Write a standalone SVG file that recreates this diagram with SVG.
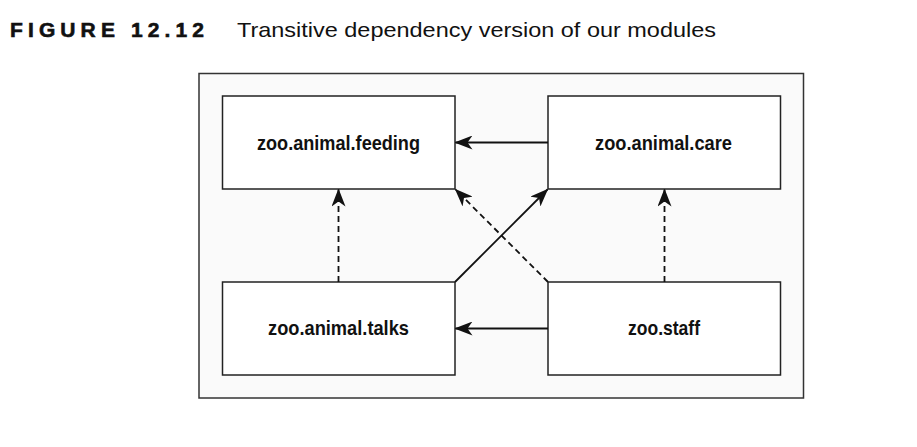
<svg xmlns="http://www.w3.org/2000/svg" width="917" height="447" viewBox="0 0 917 447">
<style>
.title{font-family:"Liberation Sans",Arial,sans-serif;font-size:21px;fill:#111}
.fig{font-weight:bold;font-size:21px}
.box{fill:#fff;stroke:#222;stroke-width:1.5}
.lbl{font-family:"Liberation Sans",Arial,sans-serif;font-weight:bold;font-size:21px;fill:#111;text-anchor:middle}
.c{stroke:#111;stroke-width:1.8;fill:none}
.d{stroke-dasharray:6 4}
</style>
<defs>
<marker id="ah" viewBox="0 0 18 14" refX="17" refY="7" markerWidth="18" markerHeight="14" markerUnits="userSpaceOnUse" orient="auto">
<path d="M0,0 L18,7 L0,14 L5,7 Z" fill="#111"/>
</marker>
</defs>
<rect width="917" height="447" fill="#fff"/>
<text class="title fig" x="10" y="37" textLength="194" lengthAdjust="spacing" stroke="#111" stroke-width="0.6">FIGURE 12.12</text>
<text class="title" x="237" y="37" textLength="479" lengthAdjust="spacingAndGlyphs">Transitive dependency version of our modules</text>
<rect id="frame" x="199" y="73.5" width="604.5" height="324.5" fill="#fafafa" stroke="#333" stroke-width="1.5"/>
<g id="feeding"><rect class="box" x="222.5" y="96" width="232.5" height="93"/><text class="lbl" x="338.5" y="149.5" textLength="163" lengthAdjust="spacingAndGlyphs">zoo.animal.feeding</text></g>
<g id="care"><rect class="box" x="548" y="96" width="232.5" height="93"/><text class="lbl" x="663.5" y="149.5" textLength="137" lengthAdjust="spacingAndGlyphs">zoo.animal.care</text></g>
<g id="talks"><rect class="box" x="222.5" y="282" width="232.5" height="93"/><text class="lbl" x="338.5" y="334.5" textLength="141" lengthAdjust="spacingAndGlyphs">zoo.animal.talks</text></g>
<g id="staff"><rect class="box" x="548" y="282" width="232.5" height="93"/><text class="lbl" x="664" y="334.5" textLength="72" lengthAdjust="spacingAndGlyphs">zoo.staff</text></g>
<g id="connectors">
<line class="c" x1="548" y1="142.5" x2="455.5" y2="142.5" marker-end="url(#ah)"/>
<line class="c" x1="548" y1="328.5" x2="455.5" y2="328.5" marker-end="url(#ah)"/>
<line class="c d" x1="338.5" y1="282" x2="338.5" y2="189.5" marker-end="url(#ah)"/>
<line class="c d" x1="664.5" y1="282" x2="664.5" y2="189.5" marker-end="url(#ah)"/>
<line class="c" x1="455" y1="282" x2="547.5" y2="189.5" marker-end="url(#ah)"/>
<line class="c d" x1="548" y1="282" x2="455.5" y2="189.5" marker-end="url(#ah)"/>
</g>
</svg>
